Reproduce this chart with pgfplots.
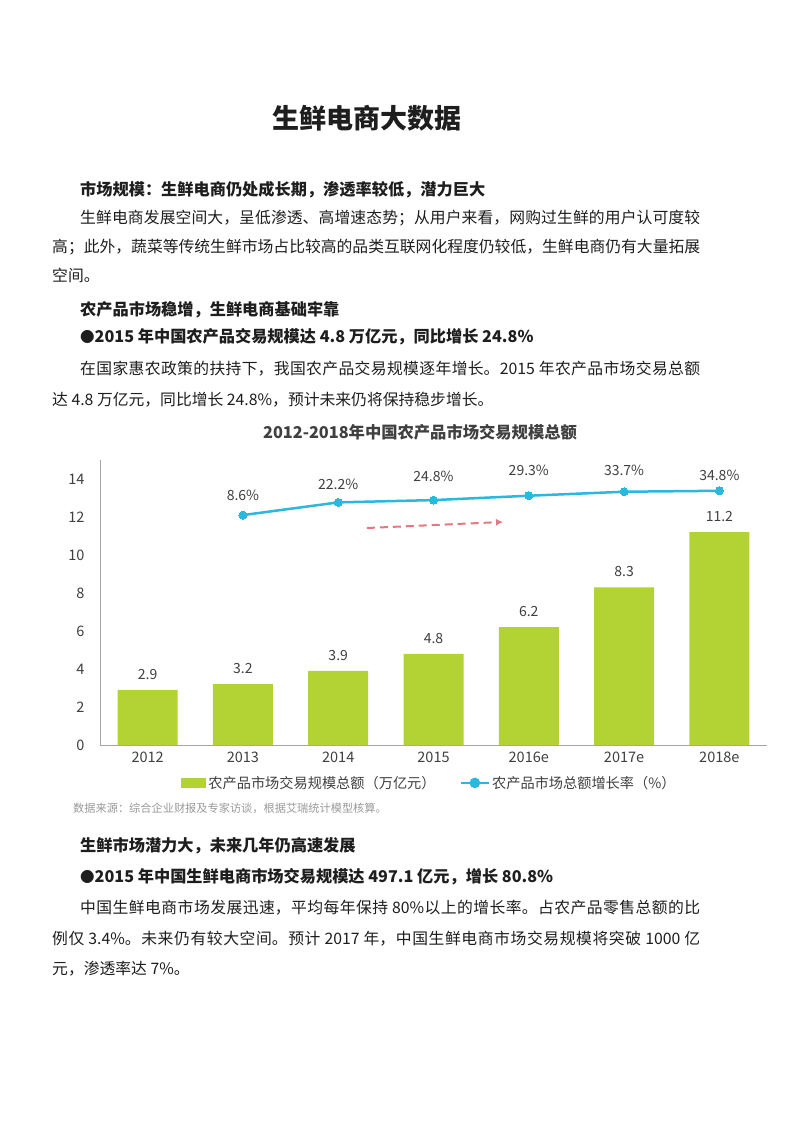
\documentclass[border=0pt]{standalone}
\usepackage{pgfplots}
\pgfplotsset{compat=1.18}
\usetikzlibrary{arrows.meta}
\usepackage{fontspec}
\setmainfont{Noto Sans CJK SC}
\XeTeXlinebreaklocale "zh"
\XeTeXlinebreakskip=0pt plus 2pt minus 0.6pt
\definecolor{barg}{HTML}{B3D234}
\definecolor{linec}{HTML}{2BB8DF}
\definecolor{txt}{HTML}{1E1E1E}
\definecolor{ctxt}{HTML}{404040}
\definecolor{axg}{HTML}{A6A6A6}
\definecolor{arr}{HTML}{E07A80}
\definecolor{src}{HTML}{9A9A9A}
\newcommand\fs[1]{\fontsize{#1}{#1}\selectfont}
\newcommand\jline[2]{\parbox{#1}{\parfillskip=0pt #2\par}}
\newcommand\bul{{\fs{14.5}●}}
\begin{document}
\begin{tikzpicture}[x=1pt,y=1pt]
\fill[white] (0,0) rectangle (793,-1122);
\path[use as bounding box] (0,0) rectangle (793,-1122);
\begin{scope}[every node/.style={inner sep=0pt, text=txt}]
\node[font=\fs{27}\bfseries] at (367,-118) {生鲜电商大数据};
\node[anchor=west, font=\fs{16.2}\bfseries] at (80,-190) {市场规模：生鲜电商仍处成长期，渗透率较低，潜力巨大};
\node[anchor=west, font=\fs{15.8}] at (80,-218) {\jline{620pt}{生鲜电商发展空间大，呈低渗透、高增速态势；从用户来看，网购过生鲜的用户认可度较}};
\node[anchor=west, font=\fs{15.8}] at (52,-247) {\jline{648pt}{高；此外，蔬菜等传统生鲜市场占比较高的品类互联网化程度仍较低，生鲜电商仍有大量拓展}};
\node[anchor=west, font=\fs{15.8}] at (52,-275) {空间。};
\node[anchor=west, font=\fs{16.2}\bfseries] at (80,-310) {农产品市场稳增，生鲜电商基础牢靠};
\node[anchor=west, font=\fs{16.2}\bfseries] at (80,-337) {\bul 2015 年中国农产品交易规模达 4.8 万亿元，同比增长 24.8\%};
\node[anchor=west, font=\fs{15.8}] at (80,-369) {\jline{620pt}{在国家惠农政策的扶持下，我国农产品交易规模逐年增长。2015 年农产品市场交易总额}};
\node[anchor=west, font=\fs{15.8}] at (52,-400) {达 4.8 万亿元，同比增长 24.8\%，预计未来仍将保持稳步增长。};
\node[font=\fs{16.3}\bfseries, text=ctxt] at (420,-432) {2012-2018年中国农产品市场交易规模总额};
\node[anchor=west, font=\fs{11.2}, text=src] at (73,-808) {数据来源：综合企业财报及专家访谈，根据艾瑞统计模型核算。};
\node[anchor=west, font=\fs{16.2}\bfseries] at (80,-846) {生鲜市场潜力大，未来几年仍高速发展};
\node[anchor=west, font=\fs{16.2}\bfseries] at (80,-877) {\bul 2015 年中国生鲜电商市场交易规模达 497.1 亿元，增长 80.8\%};
\node[anchor=west, font=\fs{15.8}] at (80,-908) {\jline{620pt}{中国生鲜电商市场发展迅速，平均每年保持 80\%以上的增长率。占农产品零售总额的比}};
\node[anchor=west, font=\fs{15.8}] at (52,-939) {\jline{648pt}{例仅 3.4\%。未来仍有较大空间。预计 2017 年，中国生鲜电商市场交易规模将突破 1000 亿}};
\node[anchor=west, font=\fs{15.8}] at (52,-969) {元，渗透率达 7\%。};
\end{scope}
\begin{axis}[
  at={(100pt,-745pt)}, anchor=south west, scale only axis,
  width=667pt, height=285pt,
  xmin=-0.5, xmax=6.5, ymin=0, ymax=15,
  axis x line=bottom, axis y line=left,
  axis line style={axg, line width=1pt, -},
  xtick={0,...,6}, xticklabels={2012,2013,2014,2015,2016e,2017e,2018e},
  ytick={0,2,...,14}, major tick length=0pt,
  tick label style={font=\fs{14.5}, text=ctxt},
  /pgf/number format/assume math mode=true,
  xticklabel style={yshift=-3pt},
  yticklabel style={xshift=-12pt},
  clip=false,
  legend style={at={(0.494,-0.133)}, anchor=center, draw=none, fill=none,
    font=\fs{14.2}, text=ctxt, legend columns=2,
    /tikz/every even column/.append style={column sep=22pt}},
  legend cell align=left,
]
\addplot[ybar, bar width=60pt, fill=barg, draw=none,
  nodes near coords,
  every node near coord/.append style={font=\fs{14}, text=ctxt, anchor=south, inner sep=0pt, yshift=10pt},
  legend image code/.code={\fill[barg] (0pt,-5pt) rectangle (25pt,5pt);}]
  coordinates {(0,2.9) (1,3.2) (2,3.9) (3,4.8) (4,6.2) (5,8.3) (6,11.2)};
\addlegendentry{农产品市场交易规模总额（万亿元）}
\addplot[linec, line width=2.5pt, mark=*, mark size=4pt, mark options={fill=linec, draw=linec, line width=0pt},
  point meta=explicit symbolic,
  visualization depends on={value \thisrow{off} \as \myoff},
  nodes near coords={\pgfplotspointmeta\%},
  every node near coord/.append style={font=\fs{14}, text=ctxt, anchor=center, inner sep=0pt, yshift=\myoff pt},
  legend image code/.code={\draw[linec, line width=2.5pt] (0pt,0pt) -- (28pt,0pt); \fill[linec] (14pt,0pt) circle (4pt);}]
  table[x=x, y=y, meta=lab] {
x y lab off
1 12.10 8.6 20
2 12.77 22.2 18
3 12.89 24.8 24
4 13.12 29.3 25
5 13.33 33.7 21
6 13.38 34.8 15
};
\addlegendentry{农产品市场总额增长率（\%）}
\draw[arr, line width=2pt, dash pattern=on 8pt off 5pt, -{Latex[length=7pt,width=7pt]}] (axis cs:2.30,11.42) -- (axis cs:3.73,11.74);
\end{axis}
\end{tikzpicture}
\end{document}
